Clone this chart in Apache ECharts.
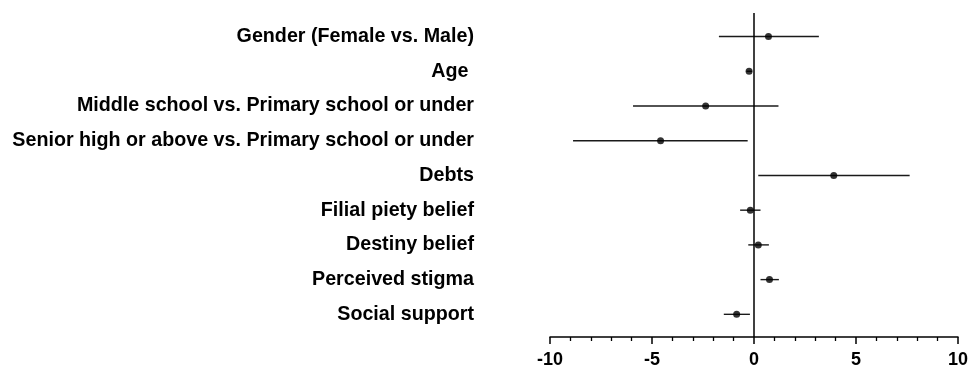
<!DOCTYPE html>
<html>
<head>
<meta charset="utf-8">
<script src="https://cdn.jsdelivr.net/npm/echarts@6/dist/echarts.min.js"></script>
<style>
html,body{margin:0;padding:0;background:#fff;}
#chart{width:971px;height:369px;}
</style>
</head>
<body>
<div id="chart"></div>
<script>
const categories = [
  "Gender (Female vs. Male)",
  "Age ",
  "Middle school vs. Primary school or under",
  "Senior high or above vs. Primary school or under",
  "Debts",
  "Filial piety belief",
  "Destiny belief",
  "Perceived stigma",
  "Social support"
];
const estimates = [0.71, -0.24, -2.37, -4.58, 3.91, -0.18, 0.21, 0.76, -0.85];
const lower     = [-1.72, -0.37, -5.93, -8.87, 0.21, -0.68, -0.28, 0.32, -1.48];
const upper     = [3.18, -0.10, 1.20, -0.31, 7.63, 0.32, 0.73, 1.22, -0.20];
const xTicks = [-10, -5, 0, 5, 10];

const rowPos = categories.map((c, i) => i + 1);
const font = '"Liberation Sans", Arial, sans-serif';

const chart = echarts.init(document.getElementById('chart'), null, {renderer: 'canvas'});
chart.setOption({
  animation: false,
  backgroundColor: '#ffffff',
  grid: {left: 550, right: 10, top: 13, bottom: 32, containLabel: false},
  xAxis: {
    type: 'value',
    min: xTicks[0],
    max: xTicks[xTicks.length - 1],
    interval: 5,
    axisLine: {show: true, lineStyle: {color: '#000', width: 1.5}},
    axisTick: {show: true, length: 7, lineStyle: {color: '#000', width: 1.5}},
    minorTick: {show: true, splitNumber: 5, length: 4, lineStyle: {color: '#000', width: 1.3}},
    splitLine: {show: false},
    axisLabel: {color: '#000', fontSize: 18, fontWeight: 'bold', fontFamily: font, margin: 14}
  },
  yAxis: {
    type: 'value',
    inverse: true,
    min: 0.321,
    max: 9.653,
    axisLine: {show: false},
    axisTick: {show: false},
    splitLine: {show: false},
    axisLabel: {
      customValues: rowPos,
      formatter: v => categories[Math.round(v) - 1] || '',
      color: '#000', fontSize: 19.7, fontWeight: 'bold', fontFamily: font, margin: 76
    }
  },
  series: [
    {
      type: 'custom',
      silent: true,
      encode: {x: [0, 1], y: 2},
      data: categories.map((c, i) => [lower[i], upper[i], rowPos[i]]),
      renderItem: function (params, api) {
        const p1 = api.coord([api.value(0), api.value(2)]);
        const p2 = api.coord([api.value(1), api.value(2)]);
        return {
          type: 'line',
          shape: {x1: p1[0], y1: p1[1], x2: p2[0], y2: p2[1]},
          style: {stroke: '#1a1a1a', lineWidth: 1.4}
        };
      },
      z: 2
    },
    {
      type: 'scatter',
      silent: true,
      symbol: 'circle',
      symbolSize: 7,
      itemStyle: {color: '#000'},
      data: categories.map((c, i) => [estimates[i], rowPos[i]]),
      markLine: {
        silent: true,
        symbol: ['none', 'none'],
        label: {show: false},
        lineStyle: {color: '#000', width: 1.5, type: 'solid'},
        data: [{xAxis: 0}]
      },
      z: 3
    }
  ]
});
</script>
</body>
</html>
